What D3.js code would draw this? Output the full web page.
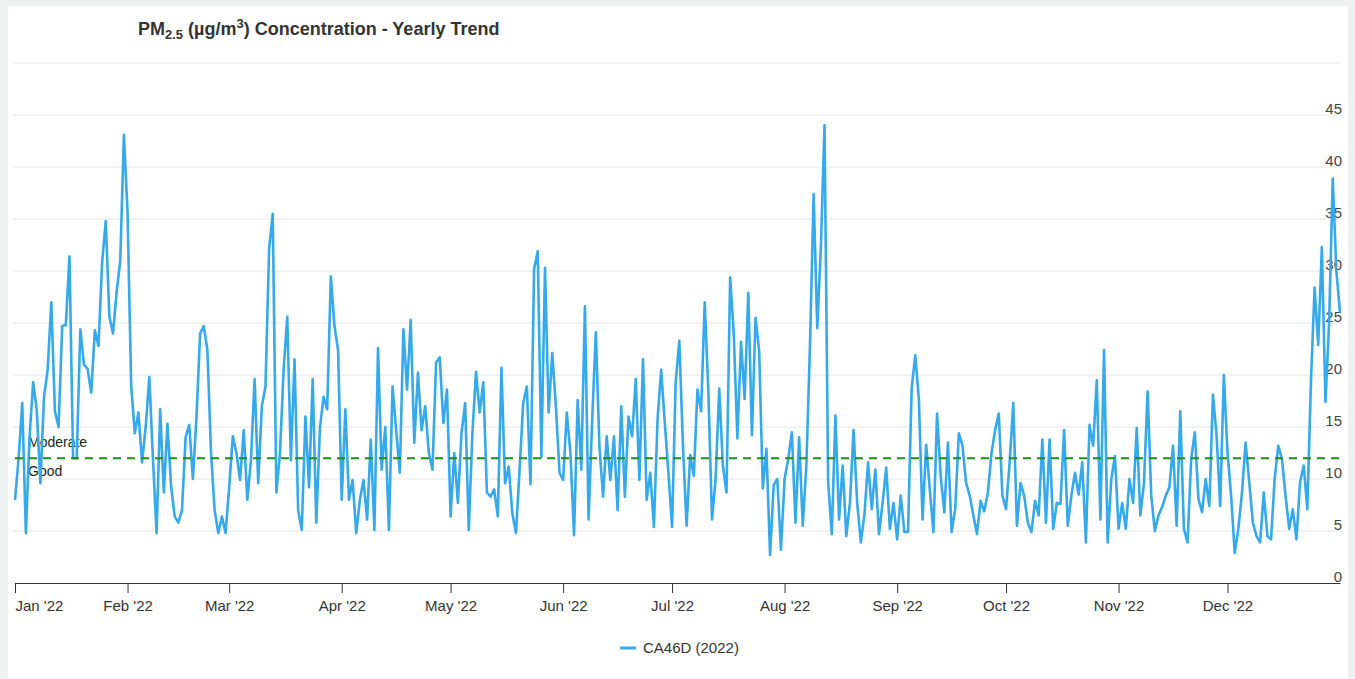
<!DOCTYPE html>
<html>
<head>
<meta charset="utf-8">
<script src="https://cdn.jsdelivr.net/npm/d3@7"></script>
<style>
  html, body { margin: 0; padding: 0; background: #eef3f1; }
  svg { display: block; font-family: "Liberation Sans", Arial, sans-serif; }
</style>
</head>
<body>
<svg id="chart" width="1355" height="679"></svg>
<script>
// ---------------- DATA ----------------
const seriesName = "CA46D (2022)";
const startDate = "2022-01-01";           // first daily reading
const thresholdValue = 12;                // Good / Moderate boundary
const thresholdLabels = ["Moderate", "Good"];
const yTicks = [0, 5, 10, 15, 20, 25, 30, 35, 40, 45];
const yGrid = [5, 10, 15, 20, 25, 30, 35, 40, 45, 50];
const monthTicks = ["2022-01-01","2022-02-01","2022-03-01","2022-04-01","2022-05-01","2022-06-01",
                    "2022-07-01","2022-08-01","2022-09-01","2022-10-01","2022-11-01","2022-12-01"];

// daily PM2.5 values (µg/m3)
const pm25 = [
  // Jan
  8,12,17.3,4.8,14,19.3,16.6,9.6,17.9,20.5,27,16.5,15,24.7,24.8,31.4,12,12,24.4,21,20.6,18.3,24.3,22.8,30.8,34.8,25.6,24,28,31,43.1,
  // Feb
  35.7,19,14.4,16.4,11.6,15,19.8,12,4.8,16.7,8.7,15.3,9.3,6.4,5.8,7,14,15.2,10,16,24,24.7,22.4,12.5,7,4.8,6.4,4.8,
  // Mar
  9.2,14.1,12.5,9.9,14.7,8,11.8,19.6,9.6,17,18.9,32.1,35.5,8.7,12.5,20.5,25.6,11.8,21.5,7,5.1,16,9.2,19.6,5.8,14.9,17.9,16.7,29.5,24.7,22.4,
  // Apr
  8,16.7,8,9.9,4.8,8,9.9,6.1,13.8,5.1,22.6,10.9,15,5.1,18.9,14.7,10.6,24.4,18.6,25.3,13.5,20.2,14.7,17,12.5,10.9,21.2,21.7,15.4,18.6,
  // May
  6.4,12.5,7.7,14.4,17.3,5.1,14.4,20.3,16.4,19.3,8.7,8.3,9,6.4,20.7,9.6,11.2,6.7,4.8,10.9,17.3,18.9,9.5,30.2,31.9,12.1,30.3,16.4,22.1,17,10.6,
  // Jun
  9.9,16.4,12.5,4.6,17.6,10.9,26.6,6.1,15.7,24.1,13.1,8.3,14.1,9.9,14.1,7,17,8.3,16,14.1,19.6,9.9,21.5,8,10.6,5.4,15.7,20.5,15.4,10.6,
  // Jul
  5.4,19.3,23.3,13.2,5.5,12.3,10.3,18.6,16.5,27,18.4,6.1,10,18.7,11.3,8.7,29.4,24,13.9,23.2,17.7,27.9,14.2,25.5,22.3,9.1,12.9,2.7,9.4,10,3.2,
  // Aug
  10,11.9,14.5,5.8,14,5.5,11.3,22.9,37.4,24.5,32.3,44,9.7,4.7,16.1,6.1,11.3,4.5,7.7,14.7,7.7,3.9,6.6,11.6,7.1,10.9,4.7,7.7,11.1,5.2,7.7,
  // Sep
  4.2,8.4,4.9,4.9,18.7,21.9,17.6,6.1,13.3,9,4.9,16.3,10.3,6.8,13.5,4.9,7.1,14.4,13.2,9.6,8.4,6.5,4.7,7.9,6.9,8.7,12.5,14.7,16.3,8.4,
  // Oct
  7.1,11.6,17.3,5.5,9.6,8.4,5.8,4.9,7.9,6.5,13.8,5.8,13.8,5.2,7.7,7.6,14.7,5.5,8.4,10.6,8.5,11.6,3.9,15.2,13.2,19.5,6.1,22.4,3.9,10,12.2,
  // Nov
  5.2,7.7,5.2,10,7.7,14.9,6.5,9.6,18.4,8.4,5,6.5,7.3,8.4,9.2,13.2,5.5,16.5,5.2,3.9,11.9,14.5,8.1,6.8,10,7.4,18.1,14.2,7.4,20,
  // Dec
  12.6,8.4,2.9,5.2,8.7,13.5,9.7,5.8,4.5,3.9,8.7,4.5,4.2,10,13.2,11.9,8.4,5.2,7.1,4.2,9.7,11.3,7.1,19.4,28.4,22.9,32.3,17.4,25,38.9,30,
  // Jan 1 2023
  26
];

// ---------------- LAYOUT ----------------
const W = 1355, H = 679;
const plot = { left: 15, right: 1340, top: 63, bottom: 583 };
const svg = d3.select("#chart");

// page card
svg.append("rect").attr("x", 8).attr("y", 6).attr("width", 1340).attr("height", H - 6)
  .attr("fill", "#ffffff");

const parse = d3.utcParse("%Y-%m-%d");
const t0 = parse(startDate);
const data = pm25.map((v, i) => ({ date: d3.utcDay.offset(t0, i), value: v }));

const x = d3.scaleUtc()
  .domain([t0, d3.utcYear.offset(t0, 1)])
  .range([plot.left, plot.right]);
const y = d3.scaleLinear().domain([0, 50]).range([plot.bottom, plot.top]);

// title
const title = svg.append("text").attr("x", 138).attr("y", 35)
  .attr("font-size", 18).attr("font-weight", "bold").attr("fill", "#333");
title.append("tspan").text("PM");
title.append("tspan").attr("font-size", 13).attr("dy", 4).text("2.5");
title.append("tspan").attr("dy", -4).text(" (µg/m");
title.append("tspan").attr("font-size", 13).attr("dy", -7).text("3");
title.append("tspan").attr("dy", 7).text(") Concentration - Yearly Trend");

// gridlines
svg.append("g").selectAll("line").data(yGrid).join("line")
  .attr("x1", plot.left - 2).attr("x2", plot.right)
  .attr("y1", d => y(d)).attr("y2", d => y(d))
  .attr("stroke", "#e6e6e6").attr("stroke-width", 1);

// y axis labels (right side, above gridlines)
const yAxis = svg.append("g").attr("transform", `translate(${plot.right + 2},0)`)
  .call(d3.axisLeft(y).tickValues(yTicks).tickSize(0).tickPadding(0));
yAxis.select(".domain").remove();
yAxis.selectAll("text").attr("font-size", 15).attr("fill", "#444")
  .attr("font-family", "Liberation Sans, Arial, sans-serif").attr("dy", "-0.12em");

// x axis
const xAxis = svg.append("g").attr("transform", `translate(0,${plot.bottom})`)
  .call(d3.axisBottom(x).tickValues(monthTicks.map(parse))
    .tickFormat(d3.utcFormat("%b '%y")).tickSize(10).tickSizeOuter(0).tickPadding(7));
xAxis.select(".domain").attr("stroke", "#333").attr("stroke-width", 1);
xAxis.selectAll(".tick line").attr("stroke", "#333");
xAxis.selectAll("text").attr("font-size", 15).attr("fill", "#333")
  .attr("font-family", "Liberation Sans, Arial, sans-serif");
xAxis.selectAll(".tick").filter((d, i) => i === 0).select("text").attr("text-anchor", "start");

// threshold labels (under the series line)
svg.append("text").attr("x", 28).attr("y", y(thresholdValue) - 11)
  .attr("font-size", 14).attr("fill", "#222").text(thresholdLabels[0]);
svg.append("text").attr("x", 28).attr("y", y(thresholdValue) + 18)
  .attr("font-size", 14).attr("fill", "#222").text(thresholdLabels[1]);

// series line
const line = d3.line().x(d => x(d.date)).y(d => y(d.value));
svg.append("path").datum(data).attr("d", line)
  .attr("fill", "none").attr("stroke", "#36a9eb").attr("stroke-width", 2.6)
  .attr("stroke-linejoin", "round");

// threshold dashed line
svg.append("line").attr("x1", plot.left).attr("x2", plot.right)
  .attr("y1", y(thresholdValue)).attr("y2", y(thresholdValue))
  .attr("stroke", "#1f8a1f").attr("stroke-width", 2).attr("stroke-dasharray", "8,6");

// legend
const lg = svg.append("g").attr("transform", "translate(620,648)");
lg.append("line").attr("x1", 0).attr("x2", 16).attr("y1", 0).attr("y2", 0)
  .attr("stroke", "#36a9eb").attr("stroke-width", 3);
lg.append("text").attr("x", 23).attr("y", 5).attr("font-size", 15).attr("fill", "#333")
  .text(seriesName);
</script>
</body>
</html>
